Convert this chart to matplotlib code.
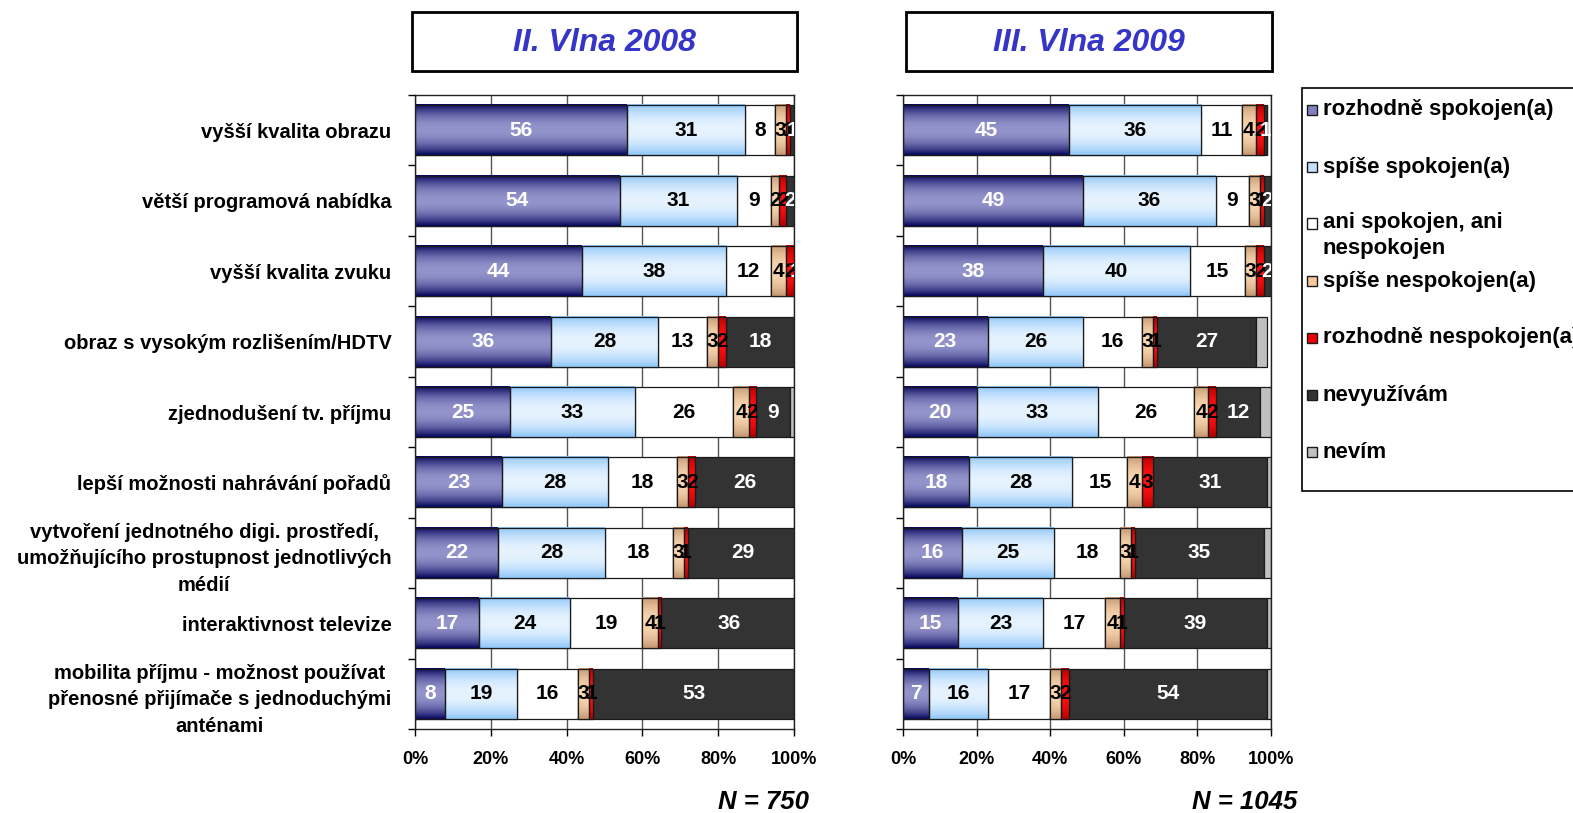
import numpy as np
import matplotlib
matplotlib.use('Agg')
import matplotlib.pyplot as plt
from matplotlib.patches import Rectangle
from matplotlib.colors import to_rgb

plt.rcParams['font.family'] = ['Liberation Sans', 'DejaVu Sans']
plt.rcParams['font.weight'] = 'bold'

# ---------------- data ----------------
categories = [
    'vyšší kvalita obrazu',
    'větší programová nabídka',
    'vyšší kvalita zvuku',
    'obraz s vysokým rozlišením/HDTV',
    'zjednodušení tv. příjmu',
    'lepší možnosti nahrávání pořadů',
    'vytvoření jednotného digi. prostředí,\numožňujícího prostupnost jednotlivých\nmédií',
    'interaktivnost televize',
    'mobilita příjmu - možnost používat\npřenosné přijímače s jednoduchými\nanténami',
]
series_names = [
    'rozhodně spokojen(a)',
    'spíše spokojen(a)',
    'ani spokojen, ani\nnespokojen',
    'spíše nespokojen(a)',
    'rozhodně nespokojen(a)',
    'nevyužívám',
    'nevím',
]

# II. vlna 2008
w08_rozhodne_spokojen = [56, 54, 44, 36, 25, 23, 22, 17, 8]
w08_spise_spokojen = [31, 31, 38, 28, 33, 28, 28, 24, 19]
w08_ani_ani = [8, 9, 12, 13, 26, 18, 18, 19, 16]
w08_spise_nespokojen = [3, 2, 4, 3, 4, 3, 3, 4, 3]
w08_rozhodne_nespokojen = [1, 2, 2, 2, 2, 2, 1, 1, 1]
w08_nevyuzivam = [1, 2, 1, 18, 9, 26, 29, 36, 53]
w08_nevim = [0, 0, 0, 1, 1, 0, 0, 0, 0]

# III. vlna 2009
w09_rozhodne_spokojen = [45, 49, 38, 23, 20, 18, 16, 15, 7]
w09_spise_spokojen = [36, 36, 40, 26, 33, 28, 25, 23, 16]
w09_ani_ani = [11, 9, 15, 16, 26, 15, 18, 17, 17]
w09_spise_nespokojen = [4, 3, 3, 3, 4, 4, 3, 4, 3]
w09_rozhodne_nespokojen = [2, 1, 2, 1, 2, 3, 1, 1, 2]
w09_nevyuzivam = [1, 2, 2, 27, 12, 31, 35, 39, 54]
w09_nevim = [0, 0, 0, 3, 3, 1, 2, 1, 1]

panel_titles = ['II. Vlna 2008', 'III. Vlna 2009']
n_labels = ['N = 750', 'N = 1045']
x_ticks = [0, 20, 40, 60, 80, 100]

data08 = [w08_rozhodne_spokojen, w08_spise_spokojen, w08_ani_ani, w08_spise_nespokojen,
          w08_rozhodne_nespokojen, w08_nevyuzivam, w08_nevim]
data09 = [w09_rozhodne_spokojen, w09_spise_spokojen, w09_ani_ani, w09_spise_nespokojen,
          w09_rozhodne_nespokojen, w09_nevyuzivam, w09_nevim]

# ---------------- styles ----------------
flat_colors = ['#8f8fc8', '#cfe6fd', '#ffffff', '#eec39a', '#ee0000', '#333333', '#c0c0c0']
legend_colors = ['#8080c0', '#c4e0fc', '#ffffff', '#f5c89c', '#ee0000', '#333333', '#c0c0c0']
grad_specs = [('#06065e', '#9494cc'), ('#8ec6fa', '#e6f3ff'), None,
              ('#c49670', '#f8d6b0'), ('#b00000', '#ff1010'), None, None]
label_colors = ['white', 'black', 'black', 'black', 'black', 'white', None]
edge_col = '#1a1a1a'


def make_gradient(edge, center, n=80):
    t = np.linspace(0, 1, n)
    f = 1 - np.abs(2 * t - 1) ** 2.0
    e = np.array(to_rgb(edge))
    c = np.array(to_rgb(center))
    img = e[None, :] + (c - e)[None, :] * f[:, None]
    return img[:, None, :]


gradients = [make_gradient(*g) if g else None for g in grad_specs]

W, H = 1573, 813
fig = plt.figure(figsize=(W / 100, H / 100), dpi=100)


def fx(px):
    return px / W


def fy(py):
    return 1 - py / H


axL = fig.add_axes([fx(415), fy(729), fx(794) - fx(415), fy(95) - fy(729)])
axR = fig.add_axes([fx(903), fy(729), fx(1271) - fx(903), fy(95) - fy(729)])


def draw_panel(ax, data, show_labels):
    y = np.arange(len(categories))
    left = np.zeros(len(categories))
    for i, vals in enumerate(data):
        vals = np.array(vals, float)
        bars = ax.barh(y, vals, left=left, height=0.71, color=flat_colors[i],
                       edgecolor=edge_col, linewidth=0.9, zorder=2)
        if gradients[i] is not None:
            for b in bars:
                w = b.get_width()
                if w <= 0:
                    continue
                x0, y0, h = b.get_x(), b.get_y(), b.get_height()
                ax.imshow(gradients[i], extent=(x0, x0 + w, y0 + h, y0), aspect='auto',
                          interpolation='bilinear', zorder=2.1)
                ax.add_patch(Rectangle((x0, y0), w, h, fill=False, edgecolor=edge_col,
                                       linewidth=0.9, zorder=2.2))
        if label_colors[i] is not None:
            for b, v in zip(bars, vals):
                if v > 0:
                    ax.text(b.get_x() + b.get_width() / 2, b.get_y() + b.get_height() / 2,
                            f'{int(v)}', ha='center', va='center', color=label_colors[i],
                            fontsize=15, fontweight='bold', zorder=3, clip_on=True)
        left += vals

    ax.set_xlim(0, 100)
    ax.set_ylim(len(categories) - 0.5, -0.5)
    ax.set_xticks(x_ticks)
    ax.set_xticklabels([f'{v}%' for v in x_ticks])
    ax.xaxis.grid(True, color='#555555', linewidth=1.0, zorder=0)
    ax.set_axisbelow(True)
    ax.tick_params(axis='x', direction='out', length=5, width=1, labelsize=13, pad=11)
    ax.set_yticks(y)
    if show_labels:
        ax.set_yticklabels(categories, fontsize=14.5, fontweight='bold')
        for lbl in ax.get_yticklabels():
            lbl.set_multialignment('center')
            lbl.set_linespacing(1.5)
    else:
        ax.set_yticklabels([])
    ax.tick_params(axis='y', which='major', length=0, pad=17)
    ax.set_yticks(np.arange(-0.5, len(categories) + 0.5, 1), minor=True)
    ax.tick_params(axis='y', which='minor', direction='out', length=5, width=1)
    for s in ax.spines.values():
        s.set_color('#222222')
        s.set_linewidth(1.0)


draw_panel(axL, data08, True)
draw_panel(axR, data09, False)

# title boxes
title_boxes = [(412, 797), (906, 1272)]
for (x0, x1), title in zip(title_boxes, panel_titles):
    fig.add_artist(Rectangle((fx(x0) + 0.0015, fy(71) - 0.003), fx(x1) - fx(x0), fy(12) - fy(71),
                             transform=fig.transFigure, facecolor='#b0b0b0',
                             edgecolor='none', zorder=1))
    fig.add_artist(Rectangle((fx(x0), fy(71)), fx(x1) - fx(x0), fy(12) - fy(71),
                             transform=fig.transFigure, facecolor='white',
                             edgecolor='black', linewidth=2, zorder=2))
    fig.text(fx((x0 + x1) / 2), fy(43), title, ha='center', va='center', fontsize=23,
             style='italic', fontweight='bold', color='#3535c8', zorder=3)

# N labels
fig.text(fx(809), fy(802), n_labels[0], ha='right', va='center', fontsize=18.5,
         style='italic', fontweight='bold')
fig.text(fx(1297), fy(802), n_labels[1], ha='right', va='center', fontsize=18.5,
         style='italic', fontweight='bold')

# legend
fig.add_artist(Rectangle((fx(1302), fy(491)), fx(1600) - fx(1302), fy(88) - fy(491),
                         transform=fig.transFigure, facecolor='white', edgecolor='black',
                         linewidth=1.2, zorder=1))
legend_y = [110, 167, 223.5, 281, 338, 395, 452]
for name, col, ly in zip(series_names, legend_colors, legend_y):
    fig.add_artist(Rectangle((fx(1307), fy(ly + 5)), fx(10), (10 / H),
                             transform=fig.transFigure, facecolor=col, edgecolor=edge_col,
                             linewidth=1, zorder=2))
    nlines = name.count('\n') + 1
    fig.text(fx(1323), fy(ly + (nlines - 1) * 12), name, ha='left', va='center',
             fontsize=16, fontweight='bold', linespacing=1.3, zorder=3)

fig.savefig('out.png', dpi=100)
